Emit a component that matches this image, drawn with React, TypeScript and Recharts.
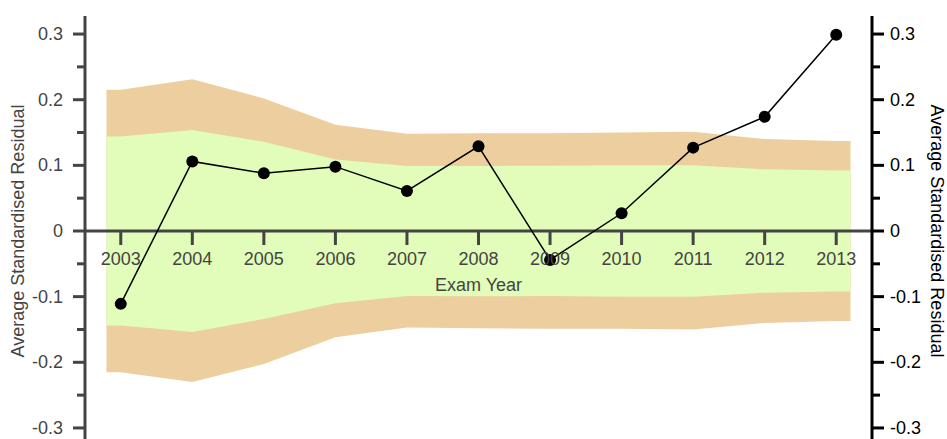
import React from "react";
import {
  ComposedChart,
  Area,
  Line,
  XAxis,
  YAxis,
  ReferenceLine,
} from "recharts";

// exam years and the average standardised residual for each
const years = [2003, 2004, 2005, 2006, 2007, 2008, 2009, 2010, 2011, 2012, 2013];
const residuals = [-0.111, 0.106, 0.088, 0.098, 0.061, 0.129, -0.044, 0.027, 0.127, 0.174, 0.299];

// confidence bands (outer = tan, inner = green)
const outerUpper = [0.215, 0.231, 0.202, 0.162, 0.148, 0.149, 0.149, 0.15, 0.151, 0.14, 0.137];
const innerUpper = [0.144, 0.154, 0.136, 0.109, 0.099, 0.099, 0.0995, 0.1, 0.1, 0.094, 0.092];
const innerLower = [-0.144, -0.154, -0.134, -0.11, -0.099, -0.0995, -0.099, -0.1, -0.1, -0.094, -0.092];
const outerLower = [-0.215, -0.23, -0.2025, -0.162, -0.147, -0.148, -0.149, -0.149, -0.15, -0.14, -0.137];

// bands run a little past the first and last year
const bandStart = 2002.8;
const bandEnd = 2013.2;

const majorTicks = [-0.3, -0.2, -0.1, 0, 0.1, 0.2, 0.3];
const minorTicks = [-0.25, -0.15, -0.05, 0.05, 0.15, 0.25];
const yTicks = [...majorTicks, ...minorTicks].sort((a, b) => a - b);
const yMin = -0.3275;
const yMax = 0.3275;

const FONT = "Arial, 'Liberation Sans', Helvetica, sans-serif";
const GREY = "#444";
const TAN = "#ecce9f";
const GREEN = "#e1fdb9";

const chartW = 947;
const xAxisH = 30;
const chartH = 476;
const marginTop = 16;
const plotH = chartH - marginTop - xAxisH;
const zeroY = marginTop + (plotH * yMax) / (yMax - yMin);

const bandRow = (year: number, i: number) => ({
  year,
  outer: [outerLower[i], outerUpper[i]],
  inner: [innerLower[i], innerUpper[i]],
});

const data = [
  bandRow(bandStart, 0),
  ...years.map((year, i) => ({ ...bandRow(year, i), resid: residuals[i] })),
  bandRow(bandEnd, years.length - 1),
];

const isMajor = (v: number) => majorTicks.some((m) => Math.abs(m - v) < 1e-9);

const LeftTick = ({ x, y, payload }: any) => {
  const major = isMajor(payload.value);
  return (
    <g>
      <line x1={x - (major ? 12 : 8)} x2={x} y1={y} y2={y} stroke={GREY} strokeWidth={3} />
      {major && (
        <text x={x - 22} y={y} textAnchor="end" dominantBaseline="central" fill={GREY} fontSize={18} fontFamily={FONT}>
          {payload.value}
        </text>
      )}
    </g>
  );
};

const RightTick = ({ x, y, payload }: any) => {
  const major = isMajor(payload.value);
  return (
    <g>
      <line x1={x} x2={x + (major ? 12 : 8)} y1={y} y2={y} stroke="#000" strokeWidth={3} />
      {major && (
        <text x={x + 18} y={y} textAnchor="start" dominantBaseline="central" fill="#000" fontSize={18} fontFamily={FONT}>
          {payload.value}
        </text>
      )}
    </g>
  );
};

const YearTick = ({ x, payload }: any) => (
  <g>
    <line x1={x} x2={x} y1={zeroY} y2={zeroY + 14} stroke={GREY} strokeWidth={3} />
    <text x={x} y={zeroY + 28} textAnchor="middle" dominantBaseline="central" fill={GREY} fontSize={18} fontFamily={FONT}>
      {payload.value}
    </text>
  </g>
);

const XTitle = ({ viewBox }: any) => (
  <text
    x={viewBox.x + viewBox.width / 2}
    y={zeroY + 54}
    textAnchor="middle"
    dominantBaseline="central"
    fill={GREY}
    fontSize={18}
    fontFamily={FONT}
  >
    Exam Year
  </text>
);

const LeftTitle = ({ viewBox }: any) => {
  const cx = viewBox.x + 18;
  const cy = viewBox.y + viewBox.height / 2;
  return (
    <text x={cx} y={cy} transform={`rotate(-90 ${cx} ${cy})`} textAnchor="middle" dominantBaseline="central" fill={GREY} fontSize={18} fontFamily={FONT}>
      Average Standardised Residual
    </text>
  );
};

const RightTitle = ({ viewBox }: any) => {
  const cx = viewBox.x + 65;
  const cy = viewBox.y + viewBox.height / 2;
  return (
    <text x={cx} y={cy} transform={`rotate(90 ${cx} ${cy})`} textAnchor="middle" dominantBaseline="central" fill="#000" fontSize={18} fontFamily={FONT}>
      Average Standardised Residual
    </text>
  );
};

export default function App() {
  return (
    <div style={{ position: "fixed", left: 0, top: 0, width: 947, height: 439, overflow: "hidden", background: "#fff" }}>
      <ComposedChart width={chartW} height={chartH} data={data} margin={{ top: marginTop, right: 0, bottom: 0, left: 0 }}>
        <XAxis
          dataKey="year"
          type="number"
          domain={[2002.5, 2013.5]}
          ticks={years}
          height={xAxisH}
          axisLine={false}
          tickLine={false}
          tick={<YearTick />}
          label={<XTitle />}
          interval={0}
          allowDataOverflow
        />
        <YAxis
          yAxisId="left"
          orientation="left"
          width={85}
          type="number"
          domain={[yMin, yMax]}
          ticks={yTicks}
          interval={0}
          allowDataOverflow
          axisLine={{ stroke: GREY, strokeWidth: 3 }}
          tickLine={false}
          tickSize={0}
          tickMargin={0}
          tick={<LeftTick />}
          label={<LeftTitle />}
        />
        <YAxis
          yAxisId="right"
          orientation="right"
          width={75}
          type="number"
          domain={[yMin, yMax]}
          ticks={yTicks}
          interval={0}
          allowDataOverflow
          axisLine={{ stroke: "#000", strokeWidth: 3 }}
          tickLine={false}
          tickSize={0}
          tickMargin={0}
          tick={<RightTick />}
          label={<RightTitle />}
        />
        <Area yAxisId="left" type="linear" dataKey="outer" stroke="none" fill={TAN} fillOpacity={1} isAnimationActive={false} />
        <Area yAxisId="left" type="linear" dataKey="inner" stroke="none" fill={GREEN} fillOpacity={1} isAnimationActive={false} />
        <ReferenceLine yAxisId="left" y={0} stroke={GREY} strokeWidth={3} />
        <Line
          yAxisId="left"
          type="linear"
          dataKey="resid"
          stroke="#000"
          strokeWidth={1.5}
          dot={{ r: 6, fill: "#000", stroke: "none" }}
          activeDot={false}
          isAnimationActive={false}
        />
      </ComposedChart>
    </div>
  );
}
